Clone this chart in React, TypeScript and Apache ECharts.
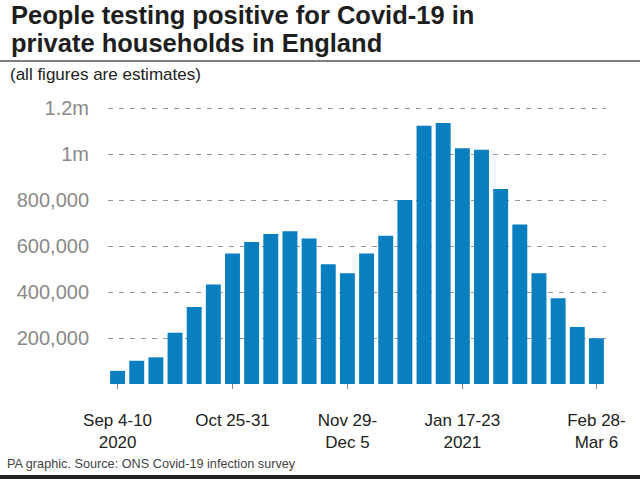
import React, { useEffect, useRef } from "react";
import * as echarts from "echarts";

const weeks = [
  "Sep 4-10\n2020", "Sep 13-19", "Sep 25-Oct 1", "Oct 2-8", "Oct 10-16", "Oct 17-23",
  "Oct 25-31", "Nov 1-7", "Nov 8-14", "Nov 15-21", "Nov 22-28", "Nov 23-29",
  "Nov 29-\nDec 5", "Dec 6-12", "Dec 13-19", "Dec 27-Jan 2", "Jan 3-9", "Jan 10-16",
  "Jan 17-23\n2021", "Jan 24-30", "Jan 31-Feb 6", "Feb 7-13", "Feb 12-18", "Feb 14-20",
  "Feb 21-27", "Feb 28-\nMar 6",
];

const positives = [
  57000, 101000, 116000, 223000, 335000, 433000, 567000, 617000, 652000, 664000,
  633000, 521000, 481000, 567000, 645000, 800000, 1123000, 1135000, 1025000, 1019000,
  848000, 694000, 481000, 373000, 248000, 199000,
];

const labelledWeeks = [0, 6, 12, 18, 25];

const titleLines = ["People testing positive for Covid-19 in", "private households in England"];
const subtitle = "(all figures are estimates)";
const footer = "PA graphic. Source: ONS Covid-19 infection survey";

const FONT = '"Liberation Sans", Arial, Helvetica, sans-serif';

export default function App() {
  const ref = useRef<HTMLDivElement>(null);

  useEffect(() => {
    if (!ref.current) return;
    const chart = echarts.init(ref.current, null, { renderer: "svg" });
    const showIdx = (i: number) => labelledWeeks.indexOf(i) >= 0;
    chart.setOption({
      animation: false,
      backgroundColor: "#ffffff",
      textStyle: { fontFamily: FONT },
      grid: { left: 108, right: 34, top: 108, bottom: 95, containLabel: false },
      xAxis: {
        type: "category",
        data: weeks,
        offset: 14,
        axisLine: { show: false },
        axisTick: {
          show: true,
          alignWithLabel: true,
          length: 5,
          interval: (i: number) => showIdx(i),
          lineStyle: { color: "#888", width: 1 },
        },
        axisLabel: {
          interval: (i: number) => showIdx(i),
          margin: 11,
          color: "#222",
          fontSize: 17,
          lineHeight: 22,
          fontFamily: FONT,
          align: "center",
        },
      },
      yAxis: {
        type: "value",
        min: 0,
        max: 1200000,
        interval: 200000,
        axisLine: { show: false },
        axisTick: { show: false },
        axisLabel: {
          margin: 19,
          color: "#8a8a8a",
          fontSize: 20,
          fontFamily: FONT,
          formatter: (v: number) => {
            if (v === 0) return "";
            if (v >= 1000000) return v / 1000000 + "m";
            return v.toLocaleString("en-GB");
          },
        },
        splitLine: {
          show: true,
          showMinLine: false,
          lineStyle: { color: "#999", type: [5, 6], width: 1 },
        },
      },
      series: [
        {
          type: "bar",
          data: positives,
          barCategoryGap: "22%",
          itemStyle: { color: "#0a7fbf" },
        },
      ],
      graphic: [
        {
          type: "text",
          x: 11,
          y: 14.5,
          style: {
            text: titleLines[0],
            fontSize: 25.5,
            fontWeight: "bold",
            fontFamily: FONT,
            fill: "#1e1e1e",
            verticalAlign: "middle",
          },
        },
        {
          type: "text",
          x: 11,
          y: 42.7,
          style: {
            text: titleLines[1],
            fontSize: 25.5,
            fontWeight: "bold",
            fontFamily: FONT,
            fill: "#1e1e1e",
            verticalAlign: "middle",
          },
        },
        {
          type: "line",
          shape: { x1: 0, y1: 61, x2: 640, y2: 61 },
          style: { stroke: "#555", lineWidth: 1.5 },
        },
        {
          type: "text",
          x: 10,
          y: 74,
          style: {
            text: subtitle,
            fontSize: 17,
            fontFamily: FONT,
            fill: "#222",
            verticalAlign: "middle",
          },
        },
        {
          type: "text",
          x: 7,
          y: 463.5,
          style: {
            text: footer,
            fontSize: 12.7,
            fontFamily: FONT,
            fill: "#444",
            verticalAlign: "middle",
          },
        },
        {
          type: "rect",
          shape: { x: 0, y: 475, width: 640, height: 4 },
          style: { fill: "#222" },
        },
      ],
    });
    return () => chart.dispose();
  }, []);

  return (
    <div
      ref={ref}
      style={{ position: "absolute", left: 0, top: 0, width: 640, height: 479, background: "#fff" }}
    />
  );
}
